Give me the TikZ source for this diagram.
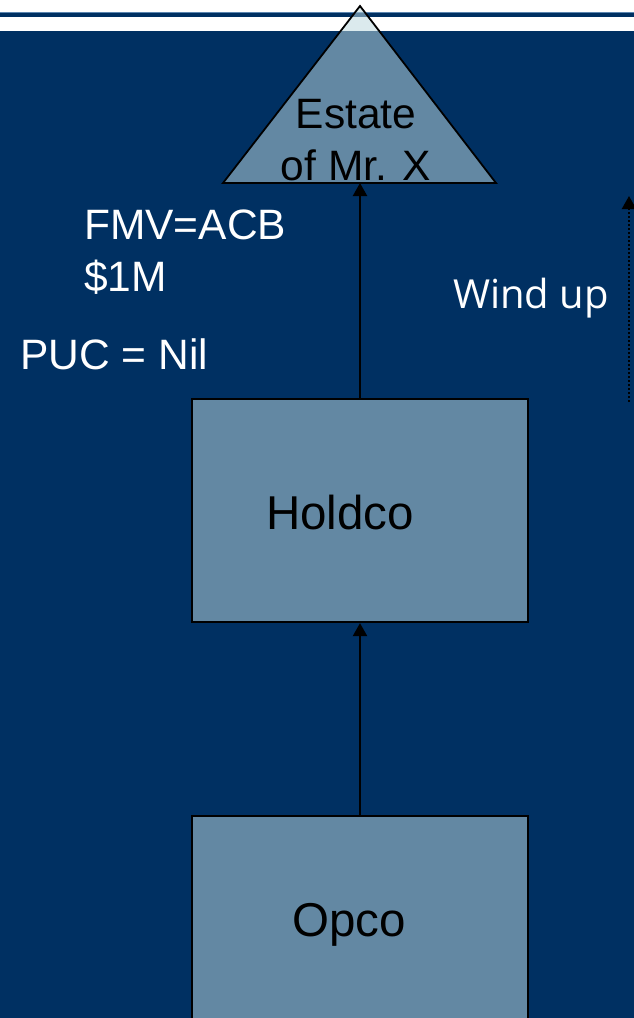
\documentclass[tikz,border=0pt]{standalone}
\usepackage{fontspec}
\setmainfont{Liberation Sans}
\newfontfamily\windfont{Open Sans}
\usepackage{tikz}
\usetikzlibrary{arrows.meta}
\definecolor{my_navy}{HTML}{003062}
\definecolor{my_paleblue}{HTML}{BBD8DD}
\definecolor{my_edgeblue}{HTML}{5C86B0}

\begin{document}
\begin{tikzpicture}[
    x=1pt, y=-1pt,
    entity/.style={draw=black, line width=2.2pt, fill=my_paleblue, fill opacity=0.53,
        minimum width=336pt, minimum height=223pt, inner sep=0pt},
    ownership/.style={draw=black, line width=2.2pt, -{Triangle[length=13pt, width=14pt]}},
    bigtext/.style={font=\fontsize{42.5}{52}\selectfont, inner sep=0pt},
    boxtext/.style={font=\fontsize{47.5}{58}\selectfont, inner sep=0pt, text=black, anchor=base west},
    note/.style={bigtext, text=white, anchor=base west}
]

%% ================================================================
%% HINTERGRUND: weisser Kopf, Linie, blaue Flaeche
%% ================================================================
\useasboundingbox (0,0) rectangle (634,1018);
\clip (0,0) rectangle (634,1018);
\fill[white] (0,0) rectangle (634,31);
\fill[my_navy] (0,12) rectangle (634,17);
\draw[my_edgeblue, line width=1pt] (0,12.5) -- (634,12.5);
\fill[my_navy] (0,31) rectangle (634,1018);

%% ================================================================
%% DREIECK: Estate of Mr. X
%% ================================================================
\filldraw[draw=black, line width=1.8pt, line join=miter, fill=my_paleblue, fill opacity=0.53]
    (360,6) -- (496,183) -- (223,183) -- cycle;
\coordinate (estatebase) at (360,183);
\node[bigtext, align=center, anchor=base] (estate) at (356,180) {Estate\\of Mr. X};

%% ================================================================
%% GESELLSCHAFTEN
%% ================================================================
\node[entity] (holdco) at (360,510.5) {};
\node[boxtext] (holdcotext) at (266,529) {Holdco};

\node[entity, anchor=north] (opco) at (360,815) {};
\node[boxtext] (opcotext) at (292,936) {Opco};

%% --- Beteiligungspfeile ---
\draw[ownership] (opco.north) -- (holdco.south);
\draw[ownership] (holdco.north) -- (estatebase);

%% ================================================================
%% BESCHRIFTUNGEN
%% ================================================================
\node[note] (fmv) at (84,239) {FMV=ACB};
\node[note] (value) at (84,291) {\$1M};
\node[note] (puc) at (20,369) {PUC = Nil};
\node[note, font=\windfont\fontsize{40}{52}\selectfont] (windup) at (453,308) {Wind up};

%% --- Wind up: gepunkteter Pfeil ---
\coordinate (windlow) at (629,402);
\coordinate (windtop) at (629,196);
\draw[ownership, dash pattern=on 2pt off 2pt] (windlow) -- (windtop);

\end{tikzpicture}
\end{document}
